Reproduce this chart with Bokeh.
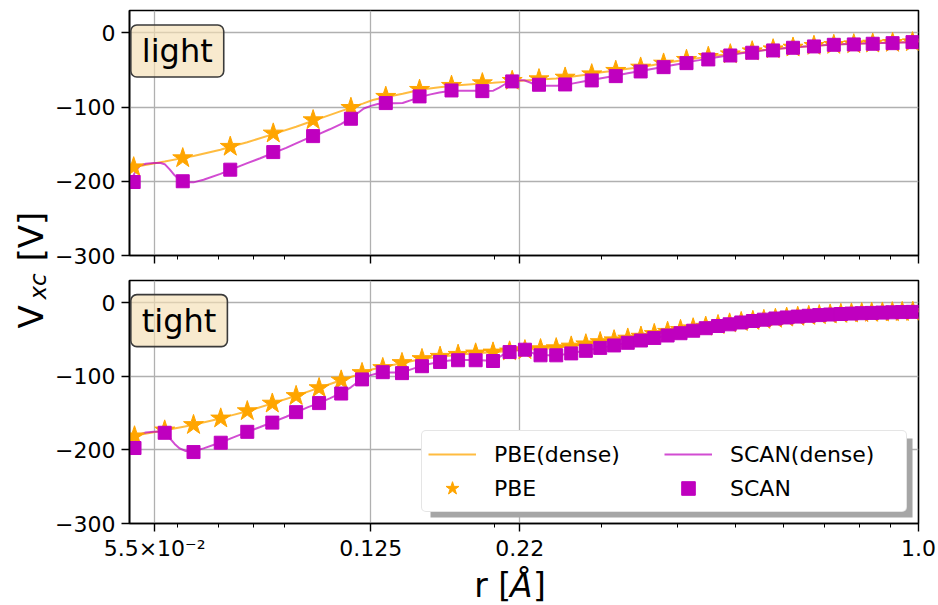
from math import pi

from bokeh.plotting import figure
from bokeh.layouts import row, column
from bokeh.models import (Range1d, FixedTicker, Label, Legend, LegendItem,
                          BoxAnnotation)
from bokeh.embed import file_html
from bokeh.resources import INLINE

FONT = "DejaVu Sans"
ORANGE = "#FFA500"
MAGENTA = "#BF00BF"

# ---- dense-grid reference curves (same in both panels) ----
r_dense_pbe = [0.05006, 0.05279, 0.05715, 0.06141, 0.06376, 0.07063, 0.07335, 0.07820, 0.08629, 0.09413,
               0.10038, 0.10260, 0.11158, 0.11588, 0.12126, 0.12593, 0.13078, 0.14106, 0.15155, 0.16222,
               0.17430, 0.18587, 0.19900, 0.21141, 0.22460, 0.23770, 0.25256, 0.26727, 0.28284, 0.29825,
               0.31448, 0.33157, 0.34825, 0.36718, 0.38569, 0.40509, 0.42551, 0.44525, 0.46770, 0.48943,
               0.51021, 0.53388, 0.55653, 0.58015, 0.60709, 0.63293, 0.65982, 0.68521, 0.71430, 0.74463,
               0.77625, 0.80602, 0.83707, 0.87272, 0.90632, 0.94128, 0.97757, 1.0]
v_dense_pbe = [-182, -178.5, -173.5, -168.5, -166, -157.5, -153.5, -147.5, -136.5, -126.5,
               -118.5, -116, -105.5, -101, -95.5, -90.5, -87.5, -82, -76.5, -73.4,
               -70.7, -68.9, -67.3, -65.8, -64.3, -62.8, -61.5, -59.3, -56.5, -53.5,
               -51, -48.5, -46.3, -43, -40, -37.3, -35, -32.8, -30.4, -28.5,
               -26.5, -24.8, -23.3, -21.9, -20.4, -19.2, -18, -17.1, -16.2, -15.4,
               -14.8, -14.3, -13.9, -13.5, -13.1, -12.8, -12.5, -12.4]

r_dense_scan = [0.05006, 0.05063, 0.05121, 0.05199, 0.05319, 0.05482, 0.05629, 0.05715, 0.05824, 0.05935,
                0.06049, 0.06188, 0.06376, 0.06623, 0.07063, 0.07418, 0.07820, 0.08214, 0.08629, 0.09064,
                0.09413, 0.09850, 0.10260, 0.10696, 0.11158, 0.11588, 0.11899, 0.12172, 0.12499, 0.12833,
                0.13228, 0.13685, 0.14106, 0.14649, 0.15155, 0.15679, 0.16222, 0.16847, 0.17430, 0.18101,
                0.18658, 0.19307, 0.19900, 0.20356, 0.20824, 0.21221, 0.21790, 0.22375, 0.22889, 0.23414,
                0.23950, 0.25351, 0.26128, 0.26827, 0.28284, 0.29825, 0.31448, 0.33157, 0.34825, 0.36718,
                0.38569, 0.40509, 0.42551, 0.44525, 0.46770, 0.48943, 0.51021, 0.53388, 0.55653, 0.58015,
                0.60709, 0.63293, 0.65982, 0.68521, 0.71430, 0.74463, 0.77625, 0.80602, 0.83707, 0.87272,
                0.90632, 0.94128, 0.97757, 1.0]
v_dense_scan = [-200, -194, -186, -179, -176.5, -175.5, -175.5, -177, -184, -192,
                -198, -201.5, -201.5, -198, -190, -183, -175.5, -169, -162, -155,
                -149, -142, -136.5, -130, -123, -115, -108, -102, -98.5, -96,
                -95, -95, -94.5, -90, -86, -83, -80.5, -78.5, -78, -78,
                -78, -78.5, -78, -74, -69, -66, -64, -64, -67, -70.5,
                -71.5, -71.5, -70, -68.5, -65, -61.5, -58.2, -54.6, -51.5, -48,
                -44.7, -41.6, -38.2, -35.5, -32.5, -30, -27.5, -25.5, -23.5, -22,
                -20.5, -19.3, -18.2, -17.2, -16.3, -15.6, -15, -14.5, -14.1, -13.7,
                -13.3, -13, -12.7, -12.6]

# ---- "light" radial grid ----
r_light = [0.0508, 0.0612, 0.0733, 0.0863, 0.1004, 0.1159, 0.1323, 0.1504, 0.1698, 0.1909,
           0.2138, 0.2367, 0.2614, 0.2892, 0.3168, 0.3482, 0.3799, 0.4144, 0.4502, 0.4894,
           0.5318, 0.5758, 0.6210, 0.6724, 0.7250, 0.7822, 0.8404, 0.9063, 0.9775]
pbe_light = [-181, -168.8, -153.4, -135.5, -117.6, -101, -86.1, -76.7, -71.3, -67.8,
             -64.6, -62.4, -60.2, -55.7, -51.1, -46.7, -41.3, -36.3, -32.3, -28.8,
             -24.8, -22.1, -19.8, -17.5, -16.2, -15.3, -14.4, -13.5, -12.6]
scan_light = [-201, -200, -184.4, -160.7, -139.2, -115.8, -94.7, -85.7, -77.7, -78.6,
              -65.5, -70, -69.6, -64.2, -58.4, -52.1, -46.3, -40.9, -35.9, -30.6,
              -26.9, -23.8, -20.2, -18.4, -16.2, -15.7, -14.8, -14, -12.6]

# ---- "tight" radial grid ----
r_tight = [0.05096, 0.05715, 0.06376, 0.07070, 0.07820, 0.08599, 0.09412, 0.1027, 0.1117, 0.1209,
           0.1308, 0.1407, 0.1518, 0.1626, 0.1741, 0.1861, 0.1988, 0.2117, 0.2244, 0.2381,
           0.2527, 0.2675, 0.2828, 0.2986, 0.3148, 0.3316, 0.3486, 0.3667, 0.3857, 0.4051,
           0.4250, 0.4458, 0.4671, 0.4881, 0.5101, 0.5332, 0.5559, 0.5808, 0.6062, 0.6322,
           0.6592, 0.6861, 0.7150, 0.7447, 0.7752, 0.8061, 0.8372, 0.8718, 0.9054, 0.9401,
           0.9786]
pbe_tight = [-181.5, -173.5, -166.1, -157.2, -147.3, -137, -126.7, -116, -105.6, -95.5,
             -88.7, -81.9, -76.5, -73.4, -70.7, -68.9, -67.6, -66.2, -64.5, -63.1,
             -61.8, -59.5, -56.5, -53.5, -51, -48.7, -46.1, -42.5, -39.5, -37,
             -34.8, -32.6, -30.4, -28.2, -26.3, -24.8, -23.4, -21.9, -20.3, -19.2,
             -18, -17, -16.1, -15.3, -14.7, -14.2, -13.8, -13.4, -13, -12.7,
             -12.5]
scan_tight = [-197.5, -176.8, -203, -190.3, -175.5, -163, -148.8, -136.5, -123.5, -104.3,
              -94.5, -95.8, -86.4, -80.6, -78.3, -78.3, -79.3, -67.2, -64, -71.6,
              -71.6, -69, -65.5, -61.5, -58.2, -54.6, -51.5, -48, -44.7, -41.6,
              -38.2, -34.8, -31.8, -29.5, -27, -25, -23.2, -21.6, -20.2, -19,
              -17.9, -17, -16.2, -15.5, -14.9, -14.4, -14, -13.6, -13.2, -12.9,
              -12.6]

assert len(r_dense_pbe) == len(v_dense_pbe)
assert len(r_dense_scan) == len(v_dense_scan)
assert len(r_light) == len(pbe_light) == len(scan_light)
assert len(r_tight) == len(pbe_tight) == len(scan_tight)

# ---- axes ----
x_ticks = [0.055, 0.125, 0.22, 1.0]
x_tick_labels = ["5.5×10⁻²", "0.125", "0.22", "1.0"]
x_minor_ticks = [0.06, 0.07, 0.08, 0.09, 0.2, 0.3, 0.4, 0.5, 0.6, 0.7, 0.8, 0.9]
y_ticks = [-300, -200, -100, 0]
y_tick_labels = ["−300", "−200", "−100", "0"]

x_range = Range1d(0.05, 1.0)

STRIP_W = 52          # width of the strip holding the shared y title
PANEL_W = 938 - STRIP_W
FRAME_L, FRAME_R = 126, 918   # page pixels of the panels' plotting area
XLAB_H = 42           # height of the strip holding the x title


def try_set(obj, **kw):
    for k, v in kw.items():
        try:
            setattr(obj, k, v)
        except Exception:
            pass


def text_strip(width, height, x0, x1):
    """Empty canvas whose data units are page pixels (y measured upward)."""
    s = figure(width=width, height=height, x_range=Range1d(x0, x1),
               y_range=Range1d(0, height), toolbar_location=None,
               output_backend="svg", title=None, min_border=0,
               x_axis_location=None, y_axis_location=None,
               outline_line_color=None, background_fill_color="white",
               border_fill_color="white")
    s.grid.visible = False
    return s


def make_panel(r, pbe, scan, tag, height, border_bottom, show_x_labels):
    p = figure(width=PANEL_W, height=height, x_axis_type="log", x_range=x_range,
               y_range=Range1d(-300, 30), toolbar_location=None,
               output_backend="svg", title=None,
               min_border_left=FRAME_L - STRIP_W, min_border_right=938 - FRAME_R,
               min_border_top=10, min_border_bottom=border_bottom,
               background_fill_color="white", border_fill_color="white")
    p.outline_line_color = "black"
    p.outline_line_width = 1.6

    p.xaxis.ticker = FixedTicker(ticks=x_ticks, minor_ticks=x_minor_ticks)
    p.yaxis.ticker = FixedTicker(ticks=y_ticks, minor_ticks=[])
    p.yaxis.major_label_overrides = {float(k): v for k, v in zip(y_ticks, y_tick_labels)}
    for ax in (p.xaxis, p.yaxis):
        ax.axis_line_color = "black"
        ax.axis_line_width = 1.6
        ax.major_tick_line_color = "black"
        ax.major_tick_line_width = 1.4
        ax.minor_tick_line_color = "black"
        ax.minor_tick_line_width = 1.0
        ax.major_tick_in = 0
        ax.major_tick_out = 8
        ax.minor_tick_in = 0
        ax.minor_tick_out = 4
        ax.major_label_text_font = FONT
        ax.major_label_text_font_size = "22px"
        ax.major_label_text_color = "black"
    p.yaxis.major_label_standoff = 6
    if show_x_labels:
        p.xaxis.major_label_overrides = dict(zip(x_ticks, x_tick_labels))
        p.xaxis.major_label_standoff = 4
    else:
        p.xaxis.major_label_overrides = {t: "" for t in x_ticks}
        p.xaxis.major_label_text_font_size = "1px"
        p.xaxis.major_label_standoff = 0

    for g in (p.xgrid, p.ygrid):
        g.grid_line_color = "#b0b0b0"
        g.grid_line_width = 1.3

    l_pbe = p.line(r_dense_pbe, v_dense_pbe, line_color=ORANGE, line_alpha=0.75,
                   line_width=2)
    l_scan = p.line(r_dense_scan, v_dense_scan, line_color=MAGENTA, line_alpha=0.7,
                    line_width=2)
    s_pbe = p.scatter(r, pbe, marker="star", size=21, fill_color=ORANGE,
                      line_color=ORANGE)
    s_scan = p.scatter(r, scan, marker="square", size=13, fill_color=MAGENTA,
                       line_color=MAGENTA)

    lab = Label(x=0.05025, y=-24.5, text=tag, text_font=FONT,
                text_font_size="32px", text_color="black",
                text_align="left", text_baseline="middle",
                background_fill_color="#f5deb3", background_fill_alpha=0.65,
                border_line_color="#3a3a3a", border_line_width=1.6)
    try_set(lab, padding=(11, 7))
    try_set(lab, border_radius=6)
    p.add_layout(lab)
    return p, (l_pbe, s_pbe, l_scan, s_scan)


top, _ = make_panel(r_light, pbe_light, scan_light, "light", 270, 15, False)
bot, (l_pbe, s_pbe, l_scan, s_scan) = make_panel(r_tight, pbe_tight, scan_tight,
                                                 "tight", 335 - XLAB_H, 80 - XLAB_H, True)

# legend with a drop shadow underneath
shadow = BoxAnnotation(left=0.15679, right=0.97757, top=-184.5, bottom=-291.9,
                       fill_color="#a6a6a6", fill_alpha=1.0, line_color=None)
bot.add_layout(shadow)

legend = Legend(items=[LegendItem(label="PBE(dense)", renderers=[l_pbe]),
                       LegendItem(label="PBE", renderers=[s_pbe]),
                       LegendItem(label="SCAN(dense)", renderers=[l_scan]),
                       LegendItem(label="SCAN", renderers=[s_scan])],
                location="bottom_right", orientation="vertical")
try_set(legend, ncols=2)
legend.margin = 11
legend.padding = 6
legend.spacing = 0
legend.glyph_width = 48
legend.glyph_height = 34
legend.label_standoff = 18
legend.label_width = 170
legend.label_text_font = FONT
legend.label_text_font_size = "22px"
legend.label_text_color = "black"
legend.border_line_color = "#cccccc"
legend.border_line_width = 1.2
legend.background_fill_color = "white"
legend.background_fill_alpha = 1.0
try_set(legend, border_radius=5)
bot.add_layout(legend)

# x-axis title strip; the column aligns its plotting area with the panels',
# so its x data units are page pixels between FRAME_L and FRAME_R
xlab = text_strip(PANEL_W, XLAB_H, FRAME_L, FRAME_R)
for txt, x, style in [("r [", 472, "normal"), ("Å", 508, "italic"), ("]", 531, "normal")]:
    xlab.add_layout(Label(x=x, y=20, text=txt, text_font=FONT,
                          text_font_size="33px", text_font_style=style,
                          text_color="black", text_align="left",
                          text_baseline="middle"))

# shared y-axis title strip
ylab = text_strip(STRIP_W, 605, 0, STRIP_W)
for txt, x, y, size, style in [("V", 30, 277, "34px", "normal"),
                               ("xc", 37, 306, "23px", "italic"),
                               ("[V]", 30, 344, "34px", "normal")]:
    ylab.add_layout(Label(x=x, y=y, text=txt, angle=pi / 2, text_font=FONT,
                          text_font_size=size, text_font_style=style,
                          text_color="black", text_align="left",
                          text_baseline="middle"))

layout = row(ylab, column(top, bot, xlab))
open("out.html", "w").write(file_html(layout, INLINE))
